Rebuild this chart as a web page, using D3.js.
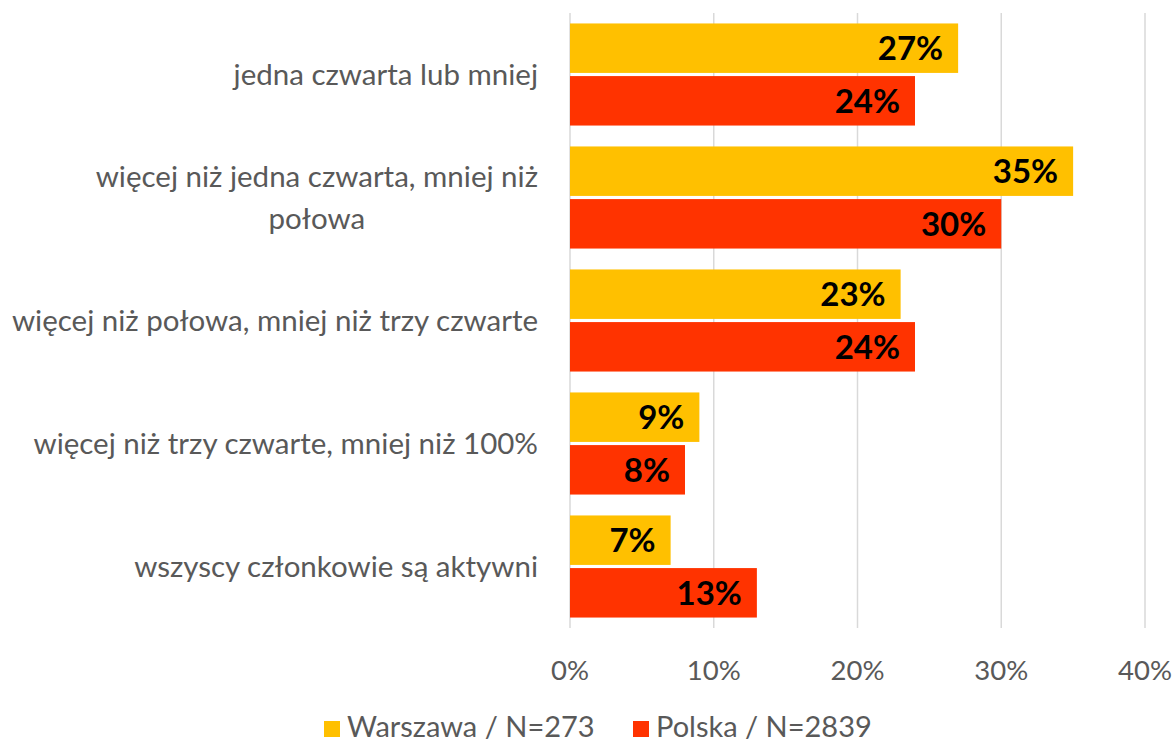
<!DOCTYPE html>
<html>
<head>
<meta charset="utf-8">
<script src="https://cdn.jsdelivr.net/npm/d3@7"></script>
<style>
  body { margin: 0; background: #fff; }
  svg { display: block; font-family: Lato, "Noto Sans", sans-serif; }
</style>
</head>
<body>
<svg id="chart" width="1176" height="744"></svg>
<script>
// categories (top to bottom), each as wrapped lines
const categories = [
  ['jedna czwarta lub mniej'],
  ['więcej niż jedna czwarta, mniej niż', 'połowa'],
  ['więcej niż połowa, mniej niż trzy czwarte'],
  ['więcej niż trzy czwarte, mniej niż 100%'],
  ['wszyscy członkowie są aktywni']
];
const warszawa = [27, 35, 23, 9, 7];
const polska = [24, 30, 24, 8, 13];
const seriesNames = ['Warszawa / N=273', 'Polska / N=2839'];
const seriesColors = ['#FFC000', '#FF3300'];
const xTicks = [0, 10, 20, 30, 40];

const svg = d3.select('#chart');
const m = { left: 570, right: 31, top: 13, bottom: 116 };
const W = 1176, H = 744;

const x = d3.scaleLinear().domain([0, 40]).range([m.left, W - m.right]);
const y = d3.scaleBand().domain(d3.range(categories.length))
  .range([m.top, H - m.bottom]).paddingInner(0.17).paddingOuter(0.085);
const inner = d3.scaleBand().domain([0, 1]).range([0, y.bandwidth()]).paddingInner(0.06);

// gridlines
svg.append('g').selectAll('line').data(xTicks).enter().append('line')
  .attr('x1', d => x(d)).attr('x2', d => x(d))
  .attr('y1', m.top).attr('y2', H - m.bottom)
  .attr('stroke', '#D9D9D9').attr('stroke-width', 1.5);

// x tick labels
svg.append('g').selectAll('text').data(xTicks).enter().append('text')
  .attr('x', d => x(d)).attr('y', 680)
  .attr('text-anchor', 'middle')
  .attr('font-size', 27.5).attr('fill', '#595959')
  .text(d => d + '%');

// bars
const series = [warszawa, polska];
series.forEach((vals, si) => {
  const g = svg.append('g');
  g.selectAll('rect').data(vals).enter().append('rect')
    .attr('x', x(0))
    .attr('y', (d, i) => y(i) + inner(si))
    .attr('width', d => x(d) - x(0))
    .attr('height', inner.bandwidth())
    .attr('fill', seriesColors[si]);
  g.selectAll('text').data(vals).enter().append('text')
    .attr('x', d => x(d) - 15)
    .attr('y', (d, i) => y(i) + inner(si) + inner.bandwidth() / 2)
    .attr('dy', '0.36em')
    .attr('text-anchor', 'end')
    .attr('font-size', 33).attr('font-weight', 'bold').attr('fill', '#000')
    .text(d => d + '%');
});

// category labels
const catG = svg.append('g');
categories.forEach((lines, i) => {
  const cy = y(i) + y.bandwidth() / 2;
  const lh = 42;
  const t = catG.append('text')
    .attr('font-size', 29.5).attr('fill', '#595959');
  lines.forEach((ln, k) => {
    t.append('tspan')
      .attr('x', 538)
      .attr('y', cy + (k - (lines.length - 1) / 2) * lh)
      .attr('dy', '0.35em')
      .text(ln);
  });
  if (lines.length > 1) {
    // centre the wrapped lines within the block, block right-aligned
    const spans = t.selectAll('tspan').nodes();
    const widths = spans.map(s => s.getComputedTextLength());
    const maxW = d3.max(widths);
    spans.forEach((s, k) => d3.select(s).attr('x', 538 - maxW + (maxW - widths[k]) / 2));
  } else {
    t.selectAll('tspan').attr('text-anchor', 'end');
  }
});

// legend
const legend = svg.append('g');
const legX = [324, 633];
seriesNames.forEach((name, i) => {
  legend.append('rect')
    .attr('x', legX[i]).attr('y', 721).attr('width', 16).attr('height', 16)
    .attr('fill', seriesColors[i]);
  legend.append('text')
    .attr('x', legX[i] + 23).attr('y', 737)
    .attr('font-size', 29).attr('fill', '#595959')
    .text(name);
});
</script>
</body>
</html>
